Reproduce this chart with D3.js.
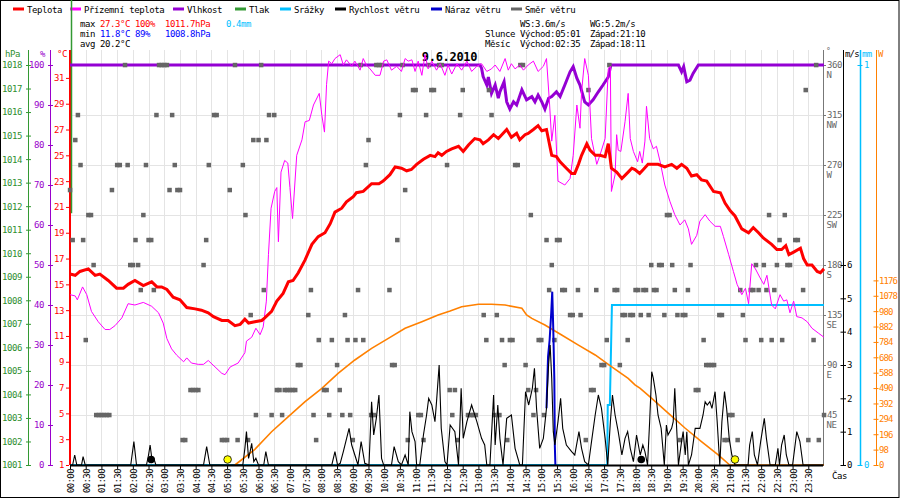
<!DOCTYPE html>
<html><head><meta charset="utf-8">
<script src="https://cdn.jsdelivr.net/npm/d3@7"></script>
<style>
html,body{margin:0;padding:0;background:#fff;}
svg{display:block;}
text{font-family:'DejaVu Sans Mono',monospace;}
</style></head>
<body>
<script>
// ---------------- DATA ----------------
const legendNames = ["Teplota","Přízemní teplota","Vlhkost","Tlak","Srážky","Rychlost větru","Náraz větru","Směr větru"];
const legendColors = ["#ff0000","#ff00ff","#9400d3","#339933","#00bfff","#000000","#0000cc","#666666"];
const legendX = [13,70,173,235,280,335,431,511];

const tempMinutes = [0,10,19,35,48,57,73,89,102,111,124,140,156,166,175,185,197,210,223,239,251,264,274,290,302,315,325,334,341,353,366,372,385,395,407,417,426,436,449,462,474,487,497,506,519,528,541,547,560,576,590,598,611,621,633,643,652,662,675,688,697,703,710,719,729,742,751,761,773,783,789,799,809,818,834,843,853,859,869,875,885,894,901,910,920,929,936,948,958,964,971,977,987,993,1003,1012,1022,1028,1034,1044,1054,1066,1073,1079,1088,1095,1104,1123,1136,1149,1159,1168,1178,1187,1197,1206,1216,1229,1242,1251,1261,1270,1283,1296,1305,1315,1324,1340,1350,1359,1367,1373,1382,1395,1401,1408,1417,1427,1433,1440];
const tempValues = [15.8,15.7,16.0,16.2,15.7,15.8,15.3,14.7,14.7,15.0,15.3,14.9,15.2,14.8,14.8,14.6,14.0,13.8,13.2,13.1,13.0,12.8,12.5,12.2,12.2,11.8,11.9,12.3,12.0,12.1,12.2,12.4,12.9,13.7,14.3,15.2,15.3,15.9,16.9,18.1,18.7,19.0,19.7,20.6,20.9,21.4,21.8,22.1,22.2,22.8,22.8,23.0,23.5,24.1,24.0,23.8,23.9,24.3,24.7,25.0,24.9,25.2,25.0,25.3,25.5,25.7,25.3,25.8,26.3,26.2,25.9,26.2,26.6,26.3,27.0,26.4,26.7,26.2,26.6,26.7,27.0,27.3,26.9,27.0,25.0,24.9,24.5,24.0,23.6,23.6,24.3,25.0,25.9,25.4,25.0,25.0,24.9,25.9,24.0,23.7,23.2,23.7,24.0,23.9,23.6,23.9,24.3,24.3,24.1,24.3,24.0,24.3,24.0,23.4,23.5,23.1,23.0,22.2,22.1,21.3,20.7,20.3,19.3,19.0,19.4,19.0,18.6,18.1,17.7,17.7,18.0,17.3,17.5,17.8,17.0,16.5,16.5,16.0,15.9,16.2];

const feelsMinutes = [0,10,14,24,32,41,54,67,76,86,99,111,124,140,156,169,178,185,194,204,217,223,232,245,255,264,277,290,296,306,321,334,337,347,355,363,369,375,379,384,391,395,398,403,410,416,420,425,433,443,449,457,465,476,481,486,490,494,500,506,516,522,528,538,544,554,560,566,573,583,592,599,605,614,624,633,640,646,653,659,665,672,678,684,691,700,707,716,722,729,739,748,758,767,777,786,796,805,812,821,831,837,843,850,859,866,875,885,894,904,910,916,920,926,932,945,955,961,968,974,977,983,990,996,1006,1012,1022,1028,1032,1034,1041,1044,1047,1052,1060,1066,1070,1076,1084,1088,1093,1098,1101,1107,1114,1120,1127,1136,1146,1155,1165,1174,1181,1187,1197,1203,1213,1222,1232,1242,1248,1258,1267,1274,1283,1290,1296,1302,1309,1318,1325,1331,1340,1347,1356,1363,1369,1375,1382,1388,1398,1408,1417,1430,1440];
const feelsValues = [14.2,14.1,13.8,14.8,14.2,12.9,12.1,11.5,11.5,11.8,12.4,13.5,13.4,13.6,13.3,12.8,12.0,10.8,10.0,9.5,9.0,9.3,8.9,8.8,8.8,9.1,8.6,8.1,8.0,8.6,8.9,9.7,10.6,10.9,11.6,11.1,11.7,13.7,17.3,20.9,22.2,22.5,18.3,23.7,24.6,24.4,22.5,20.1,25.0,26.2,27.6,27.7,28.9,29.8,28.1,26.8,30.5,32.3,32.1,32.5,32.8,32.0,32.4,31.9,32.3,31.6,32.5,32.0,31.7,31.2,31.2,32.3,32.4,31.6,31.9,31.5,32.5,32.3,32.4,31.5,32.3,31.2,32.8,31.7,32.3,31.6,32.1,31.2,32.0,31.3,32.1,31.6,32.3,31.5,31.9,32.1,31.5,31.7,32.0,31.5,32.5,31.6,32.1,31.7,32.0,31.6,32.0,32.3,31.5,31.9,32.5,28.9,26.1,28.1,23.0,22.7,23.2,25.0,28.9,27.1,29.9,32.5,31.2,26.3,24.3,25.0,26.3,31.7,31.9,22.2,23.5,26.6,25.4,25.3,27.6,29.8,26.3,25.3,24.5,25.3,24.4,26.1,28.8,26.3,25.5,25.7,24.5,22.7,21.4,20.4,19.6,20.0,19.3,18.1,18.8,19.9,20.4,19.9,19.5,19.5,18.7,17.3,16.0,15.0,14.2,14.7,13.5,16.6,16.2,15.5,15.0,15.7,13.4,13.1,14.2,13.7,13.8,12.8,13.7,12.5,12.4,12.1,11.6,11.2,10.9];

const humMinutes = [0,783,786,789,796,799,805,812,818,821,829,834,840,847,853,863,872,882,888,894,901,907,914,920,929,936,945,955,961,968,974,983,990,999,1009,1018,1028,1033,1162,1168,1172,1178,1184,1190,1200,1440];
const humValues = [100,100,99.2,97.1,95,97,92.9,95,91.7,93.3,95.8,90.8,89,90.8,90,93.8,91.3,92.1,90.8,92.5,90.8,89,91.7,92.1,93.3,92.1,95,98.3,99.6,96.7,95,90.8,90,91.3,93.3,95,97,100,100,98.3,99.6,95.8,96.2,97.9,100,100];

const windMinutes = [0,5,9,13,22,25,29,116,122,127,146,150,153,157,160,164,255,261,267,330,334,337,341,344,347,351,355,360,370,374,379,500,506,511,516,522,533,538,544,550,556,563,571,576,580,585,590,595,599,614,619,627,633,640,646,649,653,659,662,668,675,681,685,691,697,700,705,709,716,720,726,735,742,747,751,758,767,777,786,792,796,802,809,812,817,821,827,834,843,850,859,864,870,876,883,887,891,897,904,910,914,917,920,923,926,932,937,941,948,958,964,972,977,983,990,996,1003,1009,1015,1022,1027,1032,1036,1041,1047,1054,1060,1065,1070,1076,1082,1089,1094,1098,1103,1107,1111,1114,1119,1123,1129,1135,1139,1142,1149,1152,1155,1158,1162,1168,1171,1175,1178,1181,1187,1194,1203,1209,1213,1217,1222,1226,1232,1236,1241,1245,1250,1254,1259,1264,1270,1295,1298,1303,1307,1313,1319,1326,1330,1337,1347,1352,1355,1359,1364,1368,1373,1380,1388,1394,1400,1440];
const windValues = [0,0,0.3,0,0,0.25,0,0,0.7,0,0,0.3,0.6,0.1,0.2,0,0,0.55,0,0,0.5,1.0,0.2,0.4,0.65,0.1,0.2,0,0,0.4,0,0,0.4,0,0.05,0.4,1.1,0.6,0.3,0,0.7,0.05,0,1.9,0.9,1.4,2.1,0.2,0,0,0.55,0.1,0,0.3,0,1.6,1.0,0.7,0,0,0.9,1.5,2.0,1.8,1.3,1.9,3.0,1.1,0.1,0,1.2,1.0,0,2.3,0.8,1.3,1.8,1.3,0.8,0.6,0,0,2.1,0.6,1.8,0.8,0,1.4,1.5,0.5,0,0,2.2,1.8,2.3,2.9,1.7,0.5,0.8,1.7,3.0,3.6,2.6,1.0,0.6,1.3,2.0,1.1,0.6,0.4,0.3,1.0,0.5,0.1,0,0.7,1.5,2.1,1.7,0.8,0,1.3,2.1,1.5,1.0,0.3,0.8,1.0,0.5,0.1,0.9,0.3,0.6,0.4,0,1.3,2.8,2.6,2.1,1.5,1.1,0,1.2,0.9,1.1,1.3,2.3,1.3,0,0.7,1.0,0.3,1.0,0,0.3,1.1,1.1,1.5,1.9,1.8,1.9,1.7,2.2,1.3,0,1.3,2.2,1.7,0.8,0.3,0,0,0.6,1.0,0.3,0,0.7,1.4,0.8,0,0,0.5,0,0.6,0.9,0.3,0,0,1.0,0.7,0,0];

const gustMinutes = [910,913,916,919,921,923,925,926,927];
const gustValues = [1.7,3.25,3.75,4.55,5.2,4.05,2.55,0.55,0];

const rainMinutes = [0,1026,1027,1031,1035,1440];
const rainValues = [0,0,0.15,0.15,0.4,0.4];

const solarMinutes = [315,353,385,417,449,481,512,544,576,608,640,672,703,726,748,780,805,831,863,872,882,907,939,971,1003,1034,1066,1079,1089,1111,1143,1175,1206,1238,1260,1440];
const solarValues = [0,100,212,308,403,488,584,669,743,807,871,913,956,981,1008,1024,1024,1019,998,956,934,892,828,764,701,626,552,510,488,425,329,234,149,64,0,0];

// wind direction: 5-minute slot index, degrees
const dirSlots = [0,1,2,3,4,5,6,7,8,9,10,11,12,13,14,15,16,18,19,21,22,23,24,25,26,27,28,29,30,31,32,33,34,35,36,37,38,39,40,41,42,43,44,46,47,48,49,51,52,53,55,56,58,59,60,61,63,64,66,67,68,69,70,71,72,73,
74,75,76,77,78,79,80,81,82,83,84,85,86,87,88,91,92,93,94,95,97,98,99,100,102,103,104,105,106,107,108,109,110,111,112,113,114,115,116,117,118,119,122,123,124,125,126,127,128,129,131,132,133,134,135,136,137,138,139,141,142,144,145,146,
147,148,149,150,152,153,154,155,158,159,160,161,162,163,164,165,166,167,168,169,170,171,172,173,174,175,176,177,178,179,180,181,182,183,184,185,186,187,188,189,191,192,194,195,197,198,199,200,201,203,204,205,206,208,209,210,211,212,213,214,215,216,
217,218,219,220,221,222,223,224,225,226,227,228,229,230,231,232,233,234,235,236,237,239,240,242,243,244,245,246,248,249,250,251,252,253,255,256,257,258,260,261,262,263,264,265,266,267,268,269,270,271,272,273,274,275,277,278,280,281,282,284,285,286,288];
const dirValues = [247.5,202.5,292.5,315,270,202.5,112.5,225,225,180,45,45,45,45,45,45,247.5,270,270,360,270,180,180,202.5,180,157.5,225,270,202.5,202.5,157.5,315,360,360,360,360,247.5,315,270,247.5,247.5,22.5,22.5,67.5,67.5,67.5,67.5,180,202.5,270,315,315,22.5,22.5,22.5,247.5,360,22.5,270,225,22.5,135,292.5,45,292.5,360,
157.5,292.5,315,45,315,67.5,67.5,45,67.5,67.5,67.5,67.5,67.5,90,90,135,157.5,45,22.5,112.5,67.5,67.5,45,112.5,90,67.5,45,135,112.5,45,22.5,112.5,157.5,360,112.5,270,292.5,45,45,360,360,360,157.5,90,90,202.5,315,360,247.5,22.5,337.5,337.5,45,45,22.5,315,360,337.5,337.5,360,360,270,67.5,45,
67.5,22.5,315,337.5,45,45,45,45,135,112.5,337.5,315,45,135,45,112.5,90,22.5,112.5,112.5,270,270,360,360,90,67.5,225,45,67.5,112.5,112.5,45,202.5,157.5,180,112.5,202.5,202.5,157.5,157.5,135,135,157.5,135,22.5,337.5,67.5,67.5,157.5,90,90,112.5,360,157.5,157.5,90,135,135,112.5,135,135,157.5,
157.5,135,157.5,157.5,135,180,157.5,157.5,180,180,135,225,225,180,157.5,135,22.5,135,135,157.5,180,67.5,67.5,112.5,90,90,90,90,135,135,22.5,22.5,45,45,22.5,157.5,135,112.5,157.5,157.5,180,157.5,112.5,180,157.5,225,112.5,157.5,180,202.5,112.5,225,180,180,202.5,202.5,157.5,337.5,22.5,112.5,360,22.5,45];

const sunEvents = [{label:"Východ", minute:301, kind:"sun"},{label:"Západ", minute:1270, kind:"sun"}];
const moonEvents = [{label:"Východ", minute:155, kind:"moon"},{label:"Západ", minute:1091, kind:"moon"}];

const hPaTicks = d3.range(1001,1019);
const humTicks = d3.range(0,101,10);
const tempTicks = d3.range(1,32,2);
const dirTicks = [45,90,135,180,225,270,315,360];
const dirNames = ["NE","E","SE","S","SW","W","NW","N"];
const windTicks = [0,1,2,3,4,5,6];
const rainTicks = [0,1];
const solarTicks = d3.range(0,1177,98);
const timeTicks = d3.range(0,1440,30);

const titleText = "9.6.2010";
const statRows = [
  [{t:"max",c:"#000"},{t:"27.3°C",c:"#ff0000"},{t:"100%",c:"#ff0000"},{t:"1011.7hPa",c:"#ff0000"},{t:"0.4mm",c:"#00bfff"}],
  [{t:"min",c:"#000"},{t:"11.8°C",c:"#0000ff"},{t:"89%",c:"#0000ff"},{t:"1008.8hPa",c:"#0000ff"}],
  [{t:"avg",c:"#000"},{t:"20.2°C",c:"#000"}]
];
const statX = [80,100,135,165,226];
const infoRows = [
  ["","WS:3.6m/s","WG:5.2m/s"],
  ["Slunce","Východ:05:01","Západ:21:10"],
  ["Měsíc","Východ:02:35","Západ:18:11"]
];
const infoX = [485,520,590];

// ---------------- CHART ----------------
const W = 900, H = 500;
const svg = d3.select("body").append("svg").attr("width",W).attr("height",H);
const FS = "9px", LS = "-0.4px";

const x = d3.scaleLinear().domain([0,1440]).range([70,824]);
const yTop = 65, yBot = 465;
const yT = d3.scaleLinear().domain([1,32]).range([yBot,yTop]);
const yH = d3.scaleLinear().domain([0,100]).range([yBot,yTop]);
const yP = d3.scaleLinear().domain([1001,1018]).range([yBot,yTop]);
const yD = d3.scaleLinear().domain([0,360]).range([yBot,yTop]);
const yWs = d3.scaleLinear().domain([0,12]).range([yBot,yTop]);
const yR = d3.scaleLinear().domain([0,1]).range([yBot,yTop]);
const yS = d3.scaleLinear().domain([0,2548]).range([yBot,yTop]);

// border
svg.append("rect").attr("x",0.5).attr("y",0.5).attr("width",898.5).attr("height",497).attr("fill","#fff").attr("stroke","#000");

// grid
const grid = svg.append("g");
timeTicks.forEach(t=>{
  if(t===0) return;
  grid.append("line").attr("x1",Math.round(x(t))+0.5).attr("x2",Math.round(x(t))+0.5).attr("y1",50).attr("y2",yBot).attr("stroke","#e4e4e4");
});
dirTicks.slice(0,7).forEach(d=>{
  grid.append("line").attr("x1",70).attr("x2",823).attr("y1",Math.round(yD(d))+0.5).attr("y2",Math.round(yD(d))+0.5).attr("stroke","#e4e4e4");
});

// legend
const leg = svg.append("g");
legendNames.forEach((n,i)=>{
  leg.append("line").attr("x1",legendX[i]).attr("x2",legendX[i]+11).attr("y1",9).attr("y2",9).attr("stroke",legendColors[i]).attr("stroke-width",3);
  leg.append("text").attr("x",legendX[i]+14).attr("y",12.5).attr("font-size",FS).attr("letter-spacing",LS).text(n);
});

// stats
statRows.forEach((row,r)=>{
  row.forEach((s,i)=>{
    svg.append("text").attr("x",statX[i]).attr("y",26.5+r*10).attr("font-size",FS).attr("letter-spacing",LS).attr("fill",s.c).text(s.t);
  });
});
infoRows.forEach((row,r)=>{
  row.forEach((s,i)=>{
    svg.append("text").attr("x",infoX[i]).attr("y",26.5+r*10).attr("font-size",FS).attr("letter-spacing",LS).text(s);
  });
});

// title
svg.append("text").attr("x",449.5).attr("y",61).attr("text-anchor","middle").attr("font-size","12px").attr("font-weight","bold").attr("letter-spacing","-0.3px").text(titleText);

// axis helper
function styleAxis(g,color,textColor,ls){
  g.select(".domain").remove();
  g.selectAll(".tick line").attr("stroke",color);
  g.selectAll(".tick text").attr("fill",textColor||color).attr("font-size",FS).attr("letter-spacing",ls||LS).attr("font-family","'DejaVu Sans Mono',monospace");
}
function vline(xp,color,w){
  svg.append("line").attr("x1",xp).attr("x2",xp).attr("y1",50).attr("y2",yBot).attr("stroke",color).attr("stroke-width",w||1);
}

// left axes
vline(28.5,"#339933");
const gP = svg.append("g").attr("transform","translate(28.5,0)").call(d3.axisLeft(yP).tickValues(hPaTicks).tickSize(2.5).tickPadding(4).tickFormat(d3.format("d")));
styleAxis(gP,"#339933","#2f8f2f");
gP.selectAll(".tick line").attr("x2",2.5).attr("x1",-2.5);
vline(50.5,"#9900cc");
const gH = svg.append("g").attr("transform","translate(50.5,0)").call(d3.axisLeft(yH).tickValues(humTicks).tickSize(2.5).tickPadding(4));
styleAxis(gH,"#9900cc");
gH.selectAll(".tick line").attr("x2",2.5).attr("x1",-2.5);
vline(70,"#ff0000",2);
const gTa = svg.append("g").attr("transform","translate(69,0)").call(d3.axisLeft(yT).tickValues(tempTicks).tickSize(3).tickPadding(2));
styleAxis(gTa,"#ff0000");

svg.append("text").attr("x",5).attr("y",56.5).attr("font-size",FS).attr("letter-spacing",LS).attr("fill","#2f8f2f").text("hPa");
svg.append("text").attr("x",40).attr("y",56.5).attr("font-size",FS).attr("fill","#9900cc").text("%");
svg.append("text").attr("x",57).attr("y",56.5).attr("font-size",FS).attr("letter-spacing",LS).attr("fill","#ff0000").text("°C");

// pressure trace (squeezed at left edge)
svg.append("line").attr("x1",71.5).attr("x2",71.5).attr("y1",0).attr("y2",yP(1011.7)).attr("stroke","#339933").attr("stroke-width",1.5);

// right axes
vline(823.5,"#777");
const gD = svg.append("g").attr("transform","translate(823.5,0)").call(d3.axisRight(yD).tickValues(dirTicks).tickSize(2.5).tickPadding(1));
styleAxis(gD,"#777","#666");
gD.selectAll(".tick").append("text").attr("x",3).attr("y",10).attr("dy","0.32em").attr("fill","#666").attr("font-size",FS).attr("letter-spacing",LS).text(d=>dirNames[dirTicks.indexOf(d)]);
svg.append("text").attr("x",826).attr("y",54).attr("font-size","8px").attr("fill","#666").text("°");

vline(843.5,"#000");
const gWs = svg.append("g").attr("transform","translate(843.5,0)").call(d3.axisRight(yWs).tickValues(windTicks).tickSize(2.5).tickPadding(1));
styleAxis(gWs,"#000");
gWs.selectAll(".tick line").attr("x1",-3);
svg.append("text").attr("x",845).attr("y",56.5).attr("font-size",FS).attr("letter-spacing","-0.8px").text("m/s");

vline(860.5,"#00bfff",1.5);
const gR = svg.append("g").attr("transform","translate(860.5,0)").call(d3.axisRight(yR).tickValues(rainTicks).tickSize(2).tickPadding(1.5).tickFormat(d3.format("d")));
styleAxis(gR,"#00bfff");
gR.selectAll(".tick line").attr("x1",-3);
svg.append("text").attr("x",862).attr("y",56.5).attr("font-size",FS).attr("letter-spacing","-0.6px").attr("fill","#00bfff").text("mm");

vline(876.5,"#ff8000");
const gS = svg.append("g").attr("transform","translate(876.5,0)").call(d3.axisRight(yS).tickValues(solarTicks).tickSize(2).tickPadding(0.5).tickFormat(d3.format("d")));
styleAxis(gS,"#ff8000","#ff8000","-0.9px");
gS.selectAll(".tick line").attr("x1",-3);
svg.append("text").attr("x",878).attr("y",56.5).attr("font-size",FS).attr("fill","#ff8000").text("W");

// x axis
const fmt = m => String(Math.floor(m/60)).padStart(2,"0")+":"+String(m%60).padStart(2,"0");
const gX = svg.append("g").attr("transform",`translate(0,${yBot+1})`).call(d3.axisBottom(x).tickValues(timeTicks).tickSize(3).tickFormat(fmt));
gX.select(".domain").remove();
gX.selectAll(".tick line").attr("stroke","#000");
gX.selectAll(".tick text").attr("font-size",FS).attr("letter-spacing","-0.6px").attr("font-family","'DejaVu Sans Mono',monospace")
  .attr("text-anchor","end").attr("transform","translate(3.5,-3) rotate(-90)").attr("x",-6).attr("y",0).attr("dy",0);
svg.append("text").attr("x",832).attr("y",479).attr("font-size",FS).attr("letter-spacing",LS).text("Čas");

// series
const line = (ys, ms, vs) => d3.line().x(i=>x(ms[i])).y(i=>ys(vs[i]))(d3.range(Math.min(ms.length,vs.length)));

svg.append("path").attr("d",line(yR,rainMinutes,rainValues)).attr("fill","none").attr("stroke","#00bfff").attr("stroke-width",2);
svg.append("path").attr("d",line(yS,solarMinutes,solarValues)).attr("fill","none").attr("stroke","#ff8000").attr("stroke-width",1.6);
svg.append("path").attr("d",line(yH,humMinutes,humValues)).attr("fill","none").attr("stroke","#9400d3").attr("stroke-width",3);

svg.append("g").selectAll("rect").data(d3.range(Math.min(dirSlots.length,dirValues.length))).join("rect")
  .attr("x",i=>x(dirSlots[i]*5)-2.2).attr("y",i=>yD(dirValues[i])-2.2).attr("width",4.5).attr("height",4.5).attr("fill","#666");

svg.append("path").attr("d",line(yT,feelsMinutes,feelsValues)).attr("fill","none").attr("stroke","#ff00ff").attr("stroke-width",1);
svg.append("path").attr("d",line(yT,tempMinutes,tempValues)).attr("fill","none").attr("stroke","#ff0000").attr("stroke-width",3);
svg.append("path").attr("d",line(yWs,gustMinutes,gustValues)).attr("fill","none").attr("stroke","#0000cc").attr("stroke-width",2);
svg.append("path").attr("d",line(yWs,windMinutes,windValues)).attr("fill","none").attr("stroke","#000").attr("stroke-width",1.1);

// bottom axis line
svg.append("line").attr("x1",70).attr("x2",823).attr("y1",yBot+0.5).attr("y2",yBot+0.5).attr("stroke","#000").attr("stroke-width",2);

// sun / moon
svg.append("g").selectAll("circle").data(sunEvents).join("circle").attr("cx",d=>x(d.minute)).attr("cy",459.5).attr("r",3.8).attr("fill","#ffff00").attr("stroke","#000").attr("stroke-width",0.8);
svg.append("g").selectAll("circle").data(moonEvents).join("circle").attr("cx",d=>x(d.minute)).attr("cy",459.5).attr("r",3.8).attr("fill","#000");
</script>
</body></html>
